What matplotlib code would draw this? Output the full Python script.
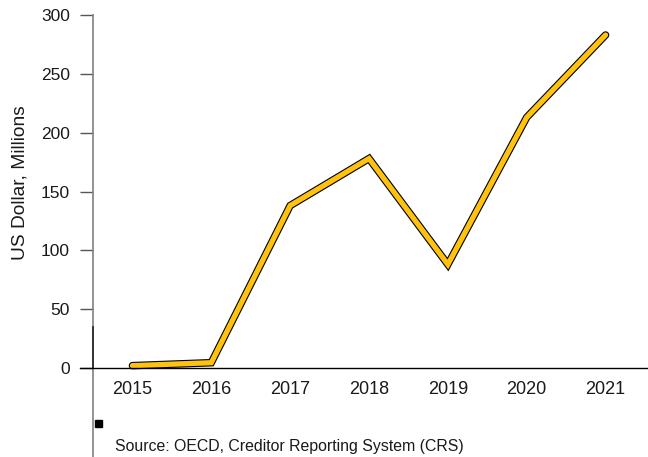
import matplotlib.pyplot as plt
from matplotlib.lines import Line2D
from matplotlib.patches import Rectangle

plt.rcParams['font.family'] = ['Liberation Sans', 'DejaVu Sans']

years = [2015, 2016, 2017, 2018, 2019, 2020, 2021]
usd_millions = [2, 4.5, 138, 178, 88, 213, 283]
y_ticks = [0, 50, 100, 150, 200, 250, 300]

W, H = 648, 457
fig = plt.figure(figsize=(W / 100, H / 100), dpi=100)

# axes box in pixel terms
left, right, top, bottom = 93, 645, 15, 368
ax = fig.add_axes([left / W, (H - bottom) / H, (right - left) / W, (bottom - top) / H])

# outlined yellow line: black underneath, yellow on top
ax.plot(years, usd_millions, color='black', lw=5.4, solid_capstyle='round',
        solid_joinstyle='miter', clip_on=False, zorder=3)
ax.plot(years, usd_millions, color='#FFC20E', lw=3.8, solid_capstyle='round',
        solid_joinstyle='miter', clip_on=False, zorder=4)

ax.set_xlim(2014.5, 2021.5)
ax.set_ylim(0, 300)
ax.set_xticks(years)
ax.set_yticks(y_ticks)
for s in ax.spines.values():
    s.set_visible(False)
ax.tick_params(axis='x', length=0, pad=9, labelsize=13, labelcolor='#1a1a1a')
ax.tick_params(axis='y', length=9.5, width=1, color='#555555', pad=7,
               labelsize=12.5, labelcolor='#1a1a1a')
ax.set_ylabel('US Dollar, Millions', fontsize=13.8, color='#1a1a1a')
ax.yaxis.set_label_coords(-0.117, 0.525)

# left axis line runs down to the bottom edge
fig.add_artist(Line2D([left / W, left / W], [0, (H - top) / H], color='#808080', lw=1.2))
fig.add_artist(Line2D([left / W, left / W], [(H - bottom) / H, (H - 327) / H],
                      color='#222222', lw=1.2))
# zero baseline
fig.add_artist(Line2D([80 / W, 1], [(H - bottom) / H, (H - bottom) / H], color='black', lw=1))
fig.add_artist(Rectangle((95 / W, (H - 427) / H), 7 / W, 7 / H, color='black'))

fig.text(115 / W, (H - 447) / H, 'Source: OECD, Creditor Reporting System (CRS)',
         fontsize=11.4, color='#1a1a1a', va='center')

fig.savefig('out.png', dpi=100)
